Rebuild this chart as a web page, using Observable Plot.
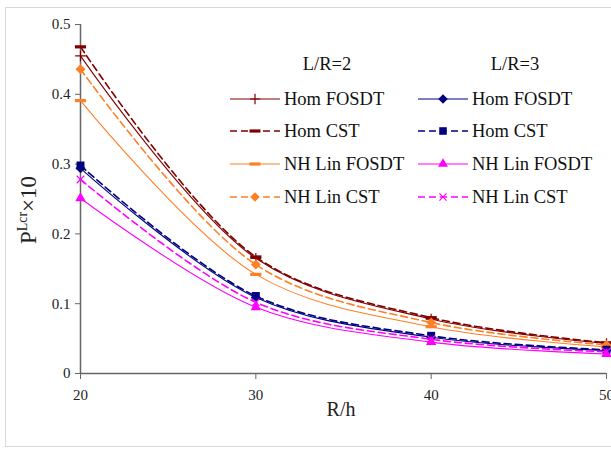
<!DOCTYPE html>
<html><head><meta charset="utf-8">
<script src="https://cdn.jsdelivr.net/npm/d3@7"></script>
<script src="https://cdn.jsdelivr.net/npm/@observablehq/plot@0.6"></script>
<style>
body{margin:0;background:#fff;}
#wrap{position:relative;width:611px;height:450px;overflow:hidden;}
#frame{position:absolute;left:5px;top:7px;width:620px;height:438px;border:1px solid #d9d9d9;}
#chart{position:absolute;left:0;top:0;}
#legend{position:absolute;left:0;top:0;}
svg text, #chart svg, #chart svg text{font-family:"Liberation Serif","Times New Roman","DejaVu Serif",serif !important;}
</style></head>
<body><div id="wrap"><div id="frame"></div><div id="chart"></div><svg id="legend" width="611" height="450"></svg></div>
<script>
const rh = [20, 30, 40, 50];
const homFosdt2 = [0.455, 0.165, 0.078, 0.043];
const homCst2   = [0.468, 0.167, 0.080, 0.044];
const nhFosdt2  = [0.391, 0.142, 0.067, 0.038];
const nhCst2    = [0.436, 0.156, 0.073, 0.041];
const homFosdt3 = [0.294, 0.109, 0.052, 0.033];
const homCst3   = [0.298, 0.111, 0.054, 0.034];
const nhFosdt3  = [0.251, 0.095, 0.045, 0.028];
const nhCst3    = [0.278, 0.102, 0.049, 0.031];
const yTicks = [0, 0.1, 0.2, 0.3, 0.4, 0.5];
const xTicks = [20, 30, 40, 50];
const groupLabels = ["L/R=2", "L/R=3"];

const dash = {draw(ctx, size){ const w = Math.sqrt(size)*0.9, h = 1.6; ctx.moveTo(-w,-h); ctx.lineTo(w,-h); ctx.lineTo(w,h); ctx.lineTo(-w,h); ctx.closePath(); }};
const plusThin = {draw(ctx, size){ const w = Math.sqrt(size)*0.6, h = 0.6; ctx.moveTo(-h,-w); ctx.lineTo(h,-w); ctx.lineTo(h,w); ctx.lineTo(-h,w); ctx.closePath(); ctx.moveTo(-w,-h); ctx.lineTo(w,-h); ctx.lineTo(w,h); ctx.lineTo(-w,h); ctx.closePath(); }};

const series = [
  {name:"Hom FOSDT", group:0, vals:homFosdt2, color:"#800000", dashed:false, symbol:plusThin, r:5},
  {name:"Hom CST", group:0, vals:homCst2, color:"#800000", dashed:true, symbol:dash, r:3.5},
  {name:"NH Lin FOSDT", group:0, vals:nhFosdt2, color:"#ff7f27", dashed:false, symbol:dash, r:3.5},
  {name:"NH Lin CST", group:0, vals:nhCst2, color:"#ff7f27", dashed:true, symbol:"diamond2", r:4.5},
  {name:"Hom FOSDT", group:1, vals:homFosdt3, color:"#000080", dashed:false, symbol:"diamond2", r:4.5},
  {name:"Hom CST", group:1, vals:homCst3, color:"#000080", dashed:true, symbol:"square", r:4.5},
  {name:"NH Lin FOSDT", group:1, vals:nhFosdt3, color:"#ff00ff", dashed:false, symbol:"triangle2", r:5},
  {name:"NH Lin CST", group:1, vals:nhCst3, color:"#ff00ff", dashed:true, symbol:"times", r:3.5}
];

const marks = [];
for (const s of series) {
  const data = rh.map((x,i)=>({x, y:s.vals[i]}));
  marks.push(Plot.line(data, {x:"x", y:"y", stroke:s.color, strokeWidth:s.dashed?1.6:1.1, strokeDasharray:s.dashed?"7,4":null, curve:"catmull-rom"}));
  marks.push(Plot.dot(data, {x:"x", y:"y", symbol:()=>s.symbol, r:s.r, fill:s.color, stroke:s.symbol==="times"?s.color:"none", strokeWidth:1.2}));
}

const chart = Plot.plot({
  width:611, height:450,
  marginLeft:80, marginRight:5, marginTop:24, marginBottom:77,
  style:{fontFamily:"Liberation Serif, serif", fontSize:"15px", color:"#333", background:"transparent", overflow:"visible"},
  x:{domain:[20,50], ticks:xTicks, tickSize:6, tickPadding:10, label:null},
  y:{domain:[0,0.5], ticks:yTicks, tickSize:5, tickPadding:5, label:null, tickFormat:d=>d3.format("")(d)},
  symbol:{type:"identity"},
  marks:[
    Plot.ruleX([20], {stroke:"#666", strokeWidth:1.5}),
    Plot.ruleY([0], {stroke:"#666", strokeWidth:1.5}),
    Plot.axisX({ticks:xTicks, tickSize:6, tickPadding:10, stroke:"#666", fill:"#222", fontSize:15}),
    Plot.axisY({ticks:yTicks, tickSize:5, tickPadding:5, stroke:"#666", fill:"#222", fontSize:15, tickFormat:d=>d3.format("")(d)}),
    ...marks
  ]
});
document.getElementById("chart").appendChild(chart);

const svg = d3.select("#legend");
svg.append("text").attr("x", 341).attr("y", 416).attr("text-anchor","middle")
  .attr("font-size",20).attr("fill","#222").text("R/h");
const yl = svg.append("text").attr("transform","translate(36,210) rotate(-90)").attr("text-anchor","middle")
  .attr("font-size",23).attr("fill","#222");
yl.append("tspan").text("P");
yl.append("tspan").attr("font-size",14).attr("dy",-9).text("Lcr");
yl.append("tspan").attr("dy",9).text("×10");

const colX = [230, 418];
const rowY = [99, 131, 164, 197];
groupLabels.forEach((g,i)=>{
  svg.append("text").attr("x", colX[i]+97).attr("y", 70).attr("text-anchor","middle")
    .attr("font-size",18.5).attr("fill","#111").text(g);
});
const sym = (s)=> typeof s.symbol === "string" ? d3.symbol(({diamond2:d3.symbolDiamond2, square:d3.symbolSquare, triangle2:d3.symbolTriangle2, times:d3.symbolTimes})[s.symbol], Math.PI*s.r*s.r*0.9)() : d3.symbol(s.symbol, s.r*s.r*3)();
const counts = [0,0];
for (const s of series) {
  const i = counts[s.group]++;
  const x0 = colX[s.group], y = rowY[i];
  svg.append("line").attr("x1",x0).attr("x2",x0+50).attr("y1",y).attr("y2",y)
    .attr("stroke",s.color).attr("stroke-width",s.dashed?1.6:1.1).attr("stroke-dasharray",s.dashed?"7,4":null);
  svg.append("path").attr("d", sym(s)).attr("transform",`translate(${x0+25},${y})`)
    .attr("fill",s.color).attr("stroke",s.symbol==="times"?s.color:"none").attr("stroke-width",1.2);
  svg.append("text").attr("x",x0+54).attr("y",y+6)
    .attr("font-size",18.5).attr("fill","#111").text(s.name);
}
</script></body></html>
